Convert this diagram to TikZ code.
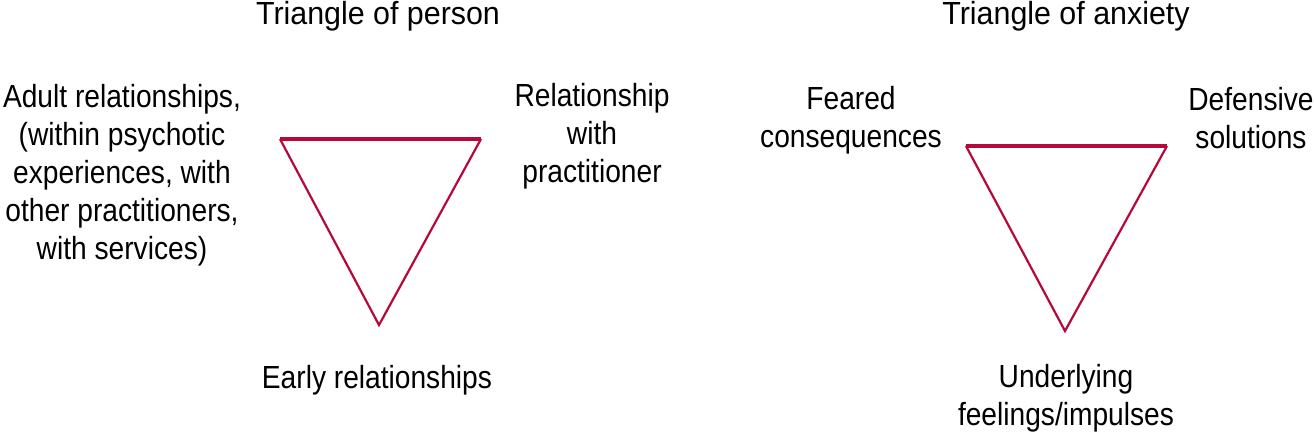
\documentclass[tikz,border=0pt]{standalone}
\usepackage{fontspec}
\setmainfont{Liberation Sans}[FakeStretch=0.88]
\newfontfamily\titlefont{Liberation Sans}[FakeStretch=0.95]
\definecolor{tricol}{RGB}{181,9,58}
\begin{document}
\begin{tikzpicture}[x=1pt,y=-1pt,
  lbl/.style={anchor=north,inner sep=0pt,align=center,font=\fontsize{32}{38}\selectfont},
  ttl/.style={anchor=north,inner sep=0pt,align=center,font=\titlefont\fontsize{32}{38}\selectfont},
  side/.style={draw=tricol,line width=2.2pt,line join=miter},
  topedge/.style={draw=tricol,line width=3.2pt}]
\useasboundingbox (0,0) rectangle (1314,435);
% triangle of person
\coordinate (pl) at (280,139);
\coordinate (pr) at (481,139);
\coordinate (pb) at (379,325);
\draw[side] (pl) -- (pb) -- (pr);
\draw[topedge] (pl) -- (pr);
% triangle of anxiety
\coordinate (al) at (966,146);
\coordinate (ar) at (1167,146);
\coordinate (ab) at (1065,331);
\draw[side] (al) -- (ab) -- (ar);
\draw[topedge] (al) -- (ar);
% labels
\node[ttl] (tp) at (378,1) {Triangle of person};
\node[ttl] (ta) at (1066,1) {Triangle of anxiety};
\node[lbl] (adult) at (122,84) {Adult relationships,\\(within psychotic\\experiences, with\\other practitioners,\\with services)};
\node[lbl] (prac) at (592,83) {Relationship\\with\\practitioner};
\node[lbl] (early) at (377,365) {Early relationships};
\node[lbl] (feared) at (851,86) {Feared\\consequences};
\node[lbl] (def) at (1251,87) {Defensive\\solutions};
\node[lbl] (under) at (1066,364) {Underlying\\feelings/impulses};
\end{tikzpicture}
\end{document}
